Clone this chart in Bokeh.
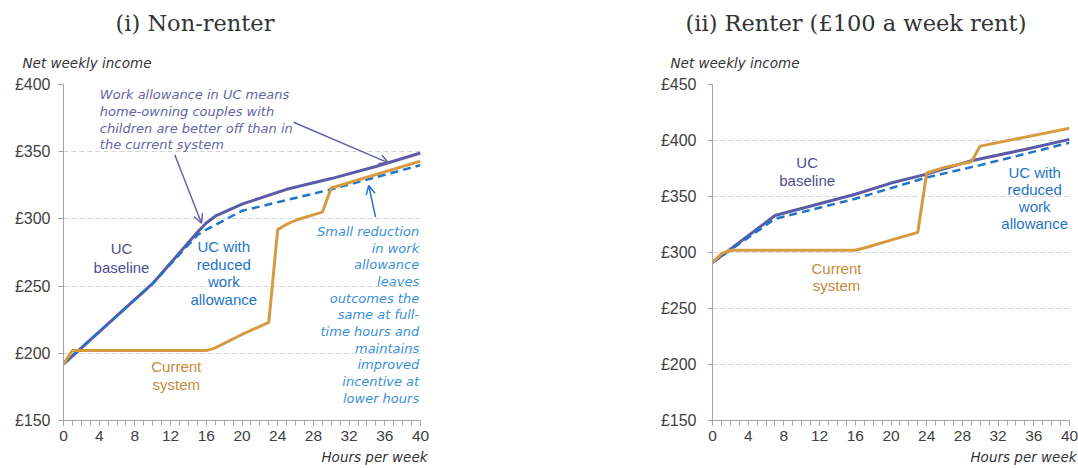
from bokeh.plotting import figure
from bokeh.models import Range1d, FixedTicker, Label, Arrow, OpenHead, Title
from bokeh.layouts import row
from bokeh.embed import file_html
from bokeh.resources import INLINE

# ---------------- data ----------------
x_ticks = list(range(0, 41, 4))
x_minor = list(range(0, 41, 1))

nr_yticks = [150, 200, 250, 300, 350, 400]
nr_ylabels = ["£150", "£200", "£250", "£300", "£350", "£400"]
r_yticks = [150, 200, 250, 300, 350, 400, 450]
r_ylabels = ["£150", "£200", "£250", "£300", "£350", "£400", "£450"]

# (i) Non-renter
nr_uc_h = [0, 10, 15, 16, 17, 20, 25, 30, 35, 40]
nr_uc_v = [192, 252, 290, 297, 302, 311, 322, 330, 339, 349]
nr_red_h = [0, 10, 15, 16, 20, 25, 30, 35, 40]
nr_red_v = [192, 252, 288, 292, 306, 314, 322, 331, 340]
nr_cur_h = [0, 1, 16, 17, 20, 23, 24, 25, 26, 29, 30, 40]
nr_cur_v = [192, 202, 202, 204, 214, 223, 292, 296, 299, 305, 323, 343]

# (ii) Renter (£100 a week rent)
r_uc_h = [0, 7, 16, 20, 24, 29, 35, 40]
r_uc_v = [291, 333, 352, 362, 370, 382, 392, 401]
r_red_h = [0, 7, 16, 24, 30, 40]
r_red_v = [291, 330, 348, 367, 378, 398]
r_cur_h = [0, 1, 2, 16, 17, 20, 23, 24, 26, 29, 30, 40]
r_cur_v = [291, 299, 302, 302, 304, 311, 318, 371, 376, 381, 395, 411]

PURPLE = "#5B5BA8"
BLUE = "#1F74C7"
ORANGE = "#D69B40"
TXT_PURPLE = "#4E4E8E"
TXT_BLUE = "#1F74C7"
TXT_ORANGE = "#C48B3B"
ANN_PURPLE = "#6464A8"
ANN_BLUE = "#3A8FD8"
SANS = "Liberation Sans"
ISANS = "DejaVu Sans"
SERIF = "DejaVu Serif"


def make_fig(width, height, ymax, yticks, ylabels, mbl, mbr, mbt, mbb, standoff):
    p = figure(width=width, height=height, x_range=Range1d(0, 40),
               y_range=Range1d(150, ymax), output_backend="svg",
               toolbar_location=None, min_border_left=mbl, min_border_right=mbr,
               min_border_top=mbt, min_border_bottom=mbb)
    p.outline_line_color = None
    p.xgrid.grid_line_color = None
    p.ygrid.grid_line_color = "#D4D4D4"
    p.ygrid.grid_line_dash = "5 3"
    p.ygrid.ticker = FixedTicker(ticks=yticks)
    p.xaxis.ticker = FixedTicker(ticks=x_ticks, minor_ticks=x_minor)
    p.yaxis.ticker = FixedTicker(ticks=yticks)
    p.yaxis.major_label_overrides = {t: l for t, l in zip(yticks, ylabels)}
    for ax in (p.xaxis, p.yaxis):
        ax.axis_line_color = "#A6A6A6"
        ax.major_tick_line_color = "#A6A6A6"
        ax.minor_tick_line_color = "#A6A6A6"
        ax.major_tick_in = 0
        ax.major_tick_out = 5
        ax.minor_tick_in = 0
        ax.minor_tick_out = 5
        ax.major_label_text_font = SANS
        ax.major_label_text_color = "#404040"
    p.xaxis.major_label_text_font_size = "15.5px"
    p.yaxis.major_label_text_font_size = "16px"
    p.yaxis.minor_tick_line_color = None
    p.yaxis.major_label_standoff = standoff
    p.xaxis.major_label_standoff = 5
    return p


def add_titles(p, title, title_offset, ylab_offset, xlab_offset):
    p.add_layout(Title(text="Net weekly income", align="left", offset=ylab_offset,
                       text_font=ISANS, text_font_size="13.5px",
                       text_font_style="italic", text_color="#333333",
                       standoff=28), "above")
    p.add_layout(Title(text=title, align="left", offset=title_offset,
                       text_font=SERIF, text_font_size="22.5px",
                       text_font_style="normal", text_color="#333333",
                       standoff=6), "above")
    p.add_layout(Title(text="Hours per week", align="right", offset=xlab_offset,
                       text_font=ISANS, text_font_size="13.5px",
                       text_font_style="italic", text_color="#333333",
                       standoff=6), "below")


def add_lines(p, lines, x, y0, dy, color, align="center", size="15px",
              font=SANS, style="normal"):
    for i, t in enumerate(lines):
        p.add_layout(Label(x=x, y=y0 - i * dy, text=t, text_align=align,
                           text_baseline="middle", text_font=font,
                           text_font_size=size, text_font_style=style,
                           text_color=color))


def add_series(p, uc_h, uc_v, red_h, red_v, cur_h, cur_v):
    p.line(uc_h, uc_v, line_color=PURPLE, line_width=3)
    p.line(red_h, red_v, line_color=BLUE, line_width=2.5, line_dash="8 5")
    p.line(cur_h, cur_v, line_color=ORANGE, line_width=3)


# ---------------- (i) Non-renter ----------------
p1 = make_fig(640, 468, 400, nr_yticks, nr_ylabels, 63, 220, 84, 48, 8)
add_series(p1, nr_uc_h, nr_uc_v, nr_red_h, nr_red_v, nr_cur_h, nr_cur_v)
add_titles(p1, "(i) Non-renter", 52, -41, -7)

add_lines(p1, ["Work allowance in UC means", "home-owning couples with",
               "children are better off than in", "the current system"],
          4.07, 392.3, 12.4, ANN_PURPLE, align="left", size="13px", font=ISANS,
          style="italic")
add_lines(p1, ["Small reduction", "in work", "allowance", "leaves", "outcomes the",
               "same at full-", "time hours and", "maintains", "improved",
               "incentive at", "lower hours"],
          39.85, 290.6, 12.4, ANN_BLUE, align="right", size="13px", font=ISANS,
          style="italic")
add_lines(p1, ["UC", "baseline"], 6.5, 277.8, 13.7, TXT_PURPLE)
add_lines(p1, ["UC with", "reduced", "work", "allowance"], 17.96, 279.5, 13.2, TXT_BLUE)
add_lines(p1, ["Current", "system"], 12.63, 190.2, 13.4, TXT_ORANGE)

p1.add_layout(Arrow(x_start=25.77, y_start=371.9, x_end=36.41, y_end=341.7,
                    line_color=ANN_PURPLE, line_width=1.5,
                    end=OpenHead(size=9, line_color=ANN_PURPLE, line_width=1.5)))
p1.add_layout(Arrow(x_start=12.47, y_start=347.7, x_end=15.46, y_end=296.8,
                    line_color=ANN_PURPLE, line_width=1.5,
                    end=OpenHead(size=9, line_color=ANN_PURPLE, line_width=1.5)))
p1.add_layout(Arrow(x_start=34.96, y_start=301.3, x_end=34.2, y_end=324.9,
                    line_color=BLUE, line_width=1.5,
                    end=OpenHead(size=9, line_color=BLUE, line_width=1.5)))

# ---------------- (ii) Renter ----------------
p2 = make_fig(438, 468, 450, r_yticks, r_ylabels, 72, 9, 83, 44, 11)
add_series(p2, r_uc_h, r_uc_v, r_red_h, r_red_v, r_cur_h, r_cur_v)
add_titles(p2, "(ii) Renter (£100 a week rent)", -27, -42, -7)

add_lines(p2, ["UC", "baseline"], 10.61, 380.2, 15.5, TXT_PURPLE)
add_lines(p2, ["UC with", "reduced", "work", "allowance"], 36.1, 371.4, 15.2, TXT_BLUE)
add_lines(p2, ["Current", "system"], 13.89, 286.1, 15.8, TXT_ORANGE)

layout = row(p1, p2)
open("out.html", "w").write(file_html(layout, INLINE))
